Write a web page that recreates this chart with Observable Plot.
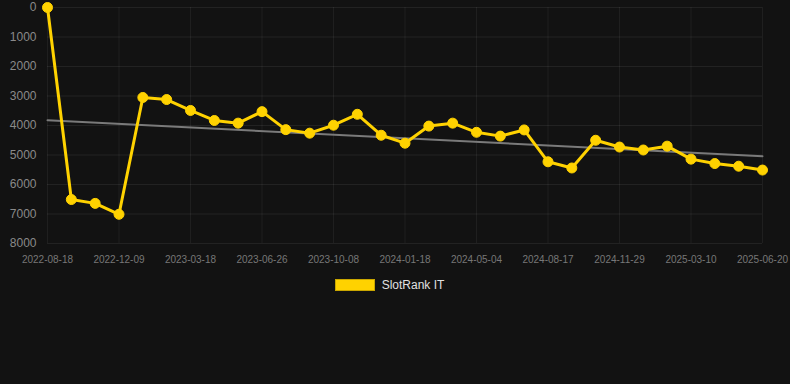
<!DOCTYPE html>
<html>
<head>
<meta charset="utf-8">
<script src="https://cdn.jsdelivr.net/npm/d3@7"></script>
<script src="https://cdn.jsdelivr.net/npm/@observablehq/plot@0.6"></script>
<style>
  html, body { margin: 0; padding: 0; background: #121212; width: 790px; height: 384px; overflow: hidden; }
  #chart svg { display: block; }
  #legend { display: flex; justify-content: center; align-items: center; gap: 7px; height: 20px; margin-top: 5px; padding-right: 11px;
    font-family: "Liberation Sans", Arial, sans-serif; font-size: 12px; color: #e0e0e0; }
  #legend .sw { width: 38px; height: 10px; background: #FFD200; border: 1px solid #c9a600; }
</style>
</head>
<body>
<div id="chart"></div>
<div id="legend"><span class="sw"></span><span>SlotRank IT</span></div>
<script>
const dates = [
  "2022-08-18","2022-09-25","2022-11-01","2022-12-09","2023-01-11","2023-02-14",
  "2023-03-18","2023-04-20","2023-05-23","2023-06-26","2023-08-08","2023-09-08",
  "2023-10-08","2023-11-10","2023-12-14","2024-01-18","2024-02-21","2024-03-28",
  "2024-05-04","2024-06-08","2024-07-13","2024-08-17","2024-09-22","2024-10-26",
  "2024-11-29","2024-12-31","2025-02-04","2025-03-10","2025-04-13","2025-05-17",
  "2025-06-20"
];
const ranks = [
  0, 6510, 6640, 7010, 3050, 3120, 3490, 3830, 3920, 3530, 4140, 4260,
  3990, 3620, 4330, 4600, 4020, 3920, 4230, 4360, 4150, 5230, 5440, 4500,
  4730, 4830, 4700, 5140, 5290, 5380, 5510
];
const yTicks = [0, 1000, 2000, 3000, 4000, 5000, 6000, 7000, 8000];
const xTickIdx = [0, 3, 6, 9, 12, 15, 18, 21, 24, 27, 30];
const seriesName = "SlotRank IT";

const data = dates.map((d, i) => ({i, date: d, v: ranks[i]}));
const gold = "#FFD200";

const chart = Plot.plot({
  width: 790,
  height: 270,
  marginLeft: 47,
  marginRight: 28,
  marginTop: 7,
  marginBottom: 27,
  style: {background: "transparent", fontFamily: "Liberation Sans, Arial, sans-serif", color: "#888"},
  x: {type: "linear", domain: [0, dates.length - 1]},
  y: {domain: [0, 8000], reverse: true},
  marks: [
    Plot.gridY(yTicks, {stroke: "#ffffff", strokeOpacity: 0.07, strokeWidth: 1}),
    Plot.gridX(xTickIdx, {stroke: "#ffffff", strokeOpacity: 0.06, strokeWidth: 1, y1: 0, y2: 8000}),
    Plot.axisY({ticks: yTicks, tickSize: 0, tickPadding: 11, fontSize: 12, fill: "#8a8a8a", label: null,
      tickFormat: d => String(d)}),
    Plot.axisX({ticks: xTickIdx, tickSize: 0, tickPadding: 12, fontSize: 10, fill: "#777", label: null,
      tickFormat: i => dates[i]}),
    Plot.linearRegressionY(data, {x: "i", y: "v", ci: 0, stroke: "#7a7a7a", strokeWidth: 2}),
    Plot.line(data, {x: "i", y: "v", stroke: gold, strokeWidth: 3}),
    Plot.dot(data, {x: "i", y: "v", r: 5, fill: gold, stroke: gold, strokeWidth: 1})
  ]
});
document.getElementById("chart").appendChild(chart);
</script>
</body>
</html>
